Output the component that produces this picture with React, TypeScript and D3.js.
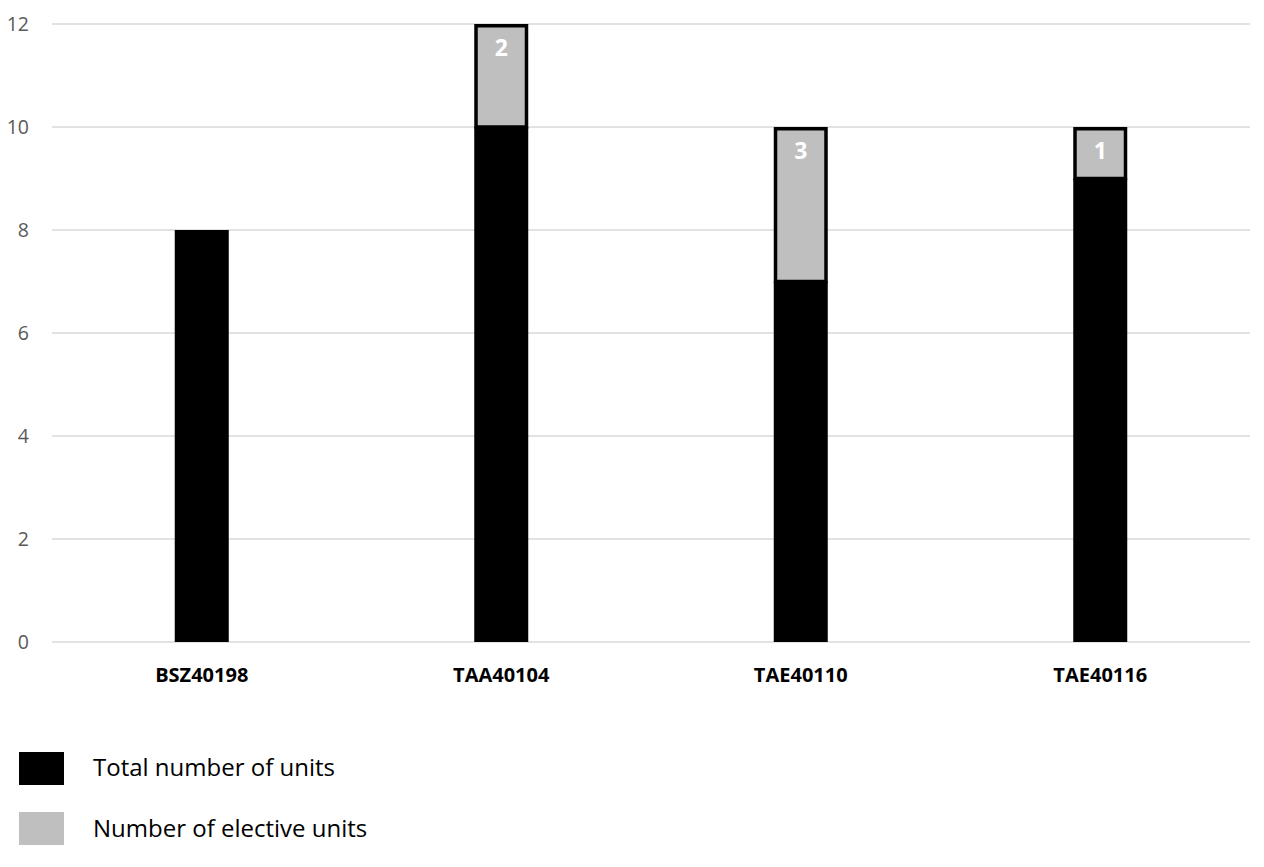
import React from "react";
import * as d3 from "d3";

const categories = ["BSZ40198", "TAA40104", "TAE40110", "TAE40116"];
const coreUnits = [8, 10, 7, 9];
const electiveUnits = [0, 2, 3, 1];
const yTicks = [0, 2, 4, 6, 8, 10, 12];
const legendLabels = ["Total number of units", "Number of elective units"];
const legendColors = ["#000000", "#bfbfbf"];

const W = 1264;
const H = 867;
const font = "'Open Sans', sans-serif";

export default function App() {
  const x = d3.scaleBand<string>().domain(categories).range([52, 1250]).paddingInner(0.82).paddingOuter(0.41);
  const y = d3.scaleLinear().domain([0, 12]).range([642, 24]);
  const bw = 54;

  return (
    <svg width={W} height={H} style={{ position: "absolute", left: 0, top: 0, background: "#fff" }}>
      {yTicks.map((t) => (
        <g key={t}>
          <line x1={52} x2={1250} y1={y(t)} y2={y(t)} stroke="#d9d9d9" strokeWidth={1.5} />
          <text x={29} y={y(t)} dy="0.35em" textAnchor="end" fontSize={19.5} fill="#595959" fontFamily={font}>
            {t}
          </text>
        </g>
      ))}
      {categories.map((c, i) => {
        const cx = (x(c) as number) + x.bandwidth() / 2;
        const x0 = cx - bw / 2;
        const base = coreUnits[i];
        const el = electiveUnits[i];
        return (
          <g key={c}>
            <rect x={x0} y={y(base)} width={bw} height={y(0) - y(base)} fill="#000" />
            {el > 0 && (
              <>
                <rect
                  x={x0 + 1.75}
                  y={y(base + el) + 1.75}
                  width={bw - 3.5}
                  height={y(base) - y(base + el) - 1.75}
                  fill="#bfbfbf"
                  stroke="#000"
                  strokeWidth={3.5}
                />
                <text
                  x={cx}
                  y={y(base + el) + 24}
                  dy="0.35em"
                  textAnchor="middle"
                  fontSize={23}
                  fontWeight="bold"
                  fill="#fff"
                  fontFamily={font}
                >
                  {el}
                </text>
              </>
            )}
            <text x={cx} y={675} dy="0.35em" textAnchor="middle" fontSize={20} fontWeight="bold" fill="#000" fontFamily={font}>
              {c}
            </text>
          </g>
        );
      })}
      {legendLabels.map((l, i) => (
        <g key={l}>
          <rect x={19} y={752 + i * 60} width={45} height={33} fill={legendColors[i]} />
          <text x={93} y={768 + i * 61} dy="0.35em" fontSize={24} fill="#000" fontFamily={font}>
            {l}
          </text>
        </g>
      ))}
    </svg>
  );
}
